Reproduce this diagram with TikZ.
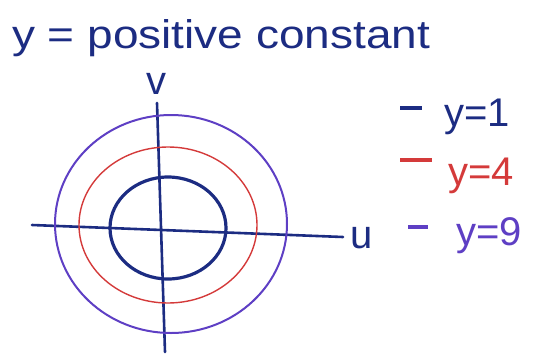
\documentclass[tikz,border=0pt]{standalone}
\usepackage{fontspec}
\setmainfont{Liberation Sans}
\usetikzlibrary{positioning, calc}

\definecolor{inkblue}{HTML}{1C2C82}
\definecolor{inkred}{HTML}{D43A3A}
\definecolor{inkpurple}{HTML}{5E3FC4}

\begin{document}
\begin{tikzpicture}[
    x=1pt, y=-1pt,
    every node/.style={font=\fontsize{40}{40}\selectfont, inner sep=0pt},
    axis/.style={draw=inkblue, line width=2.6pt, line cap=round},
    level/.style={line width=#1},
    key/.style={line width=4pt}
  ]
\useasboundingbox (0,0) rectangle (536,354);

% title
\node[inkblue, anchor=west, xscale=1.15] (title) at (12,38) {y = positive constant};

% axes
\coordinate (uL) at (32,225);
\coordinate (uR) at (343,237);
\coordinate (vT) at (157,103);
\coordinate (vB) at (165,352);
\draw[axis] (uL) -- (uR);
\draw[axis] (vT) -- (vB);
\node[inkblue, anchor=west] (ulab) at (350,238) {u};
\node[inkblue] (vlab) at (156,84) {v};

% level curves
\draw[inkpurple, level=2pt] (171,224) ellipse [x radius=116, y radius=109];
\draw[inkred, level=1.4pt] (168,225) ellipse [x radius=89, y radius=78];
\draw[inkblue, level=3.2pt] (168,228) ellipse [x radius=58, y radius=51];

% legend
\node[inkblue, anchor=west] (k1) at (444,117) {y=1};
\node[inkred, anchor=west] (k4) at (448,176) {y=4};
\node[inkpurple, anchor=west] (k9) at (456,236) {y=9};
\coordinate (d1) at (400,108);
\coordinate (d4) at (400,160);
\coordinate (d9) at (408,227);
\draw[key, inkblue] (d1) -- ++(22,0);
\draw[key, inkred] (d4) -- ++(32,0);
\draw[key, inkpurple] (d9) -- ++(20,0);
\end{tikzpicture}
\end{document}
